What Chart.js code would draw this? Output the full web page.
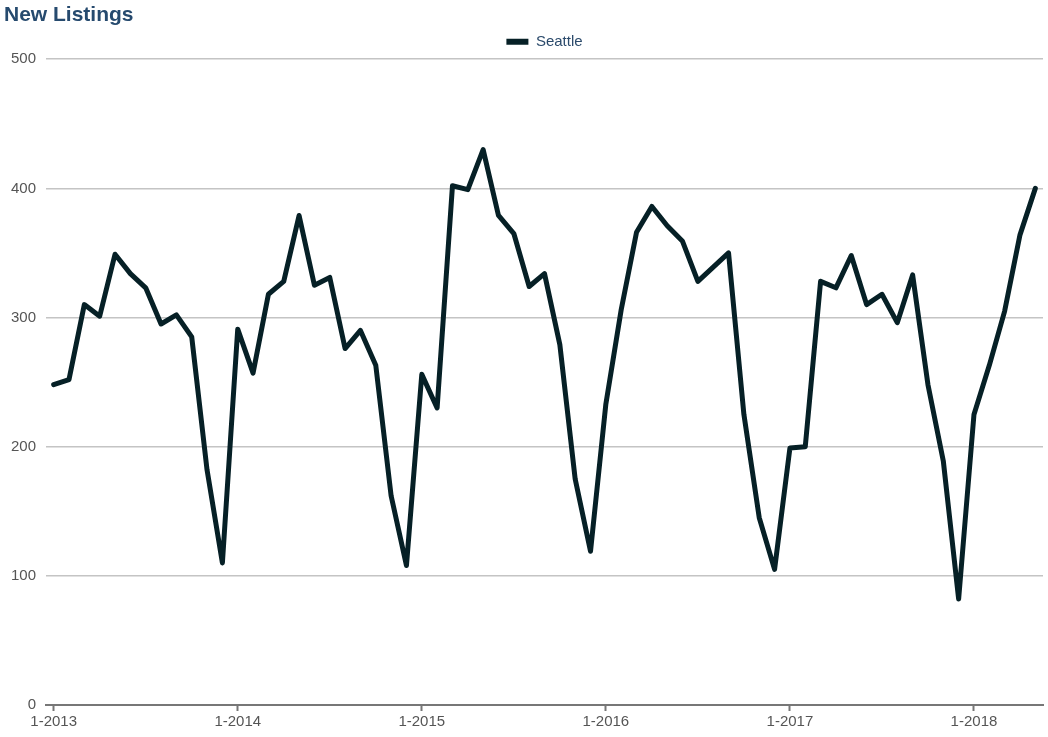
<!DOCTYPE html>
<html>
<head>
<meta charset="utf-8">
<script src="https://cdn.jsdelivr.net/npm/chart.js@4/dist/chart.umd.min.js"></script>
<style>
  html, body { margin: 0; padding: 0; background: #fff; }
  #wrap { width: 1048px; height: 737px; }
</style>
</head>
<body>
<div id="wrap"><canvas id="chart"></canvas></div>
<script>
// monthly new listings, 1-2013 .. 5-2018
const years = [2013, 2014, 2015, 2016, 2017, 2018];
const seattle = [
    248, 252, 310, 301, 349, 334, 323, 295, 302, 285, 182, 110,
    291, 257, 318, 328, 379, 325, 331, 276, 290, 263, 162, 108,
    256, 230, 402, 399, 430, 379, 365, 324, 334, 279, 175, 119,
    233, 306, 366, 386, 371, 359, 328, 339, 350, 225, 145, 105,
    199, 200, 328, 323, 348, 310, 318, 296, 333, 248, 189, 82,
    225, 263, 305, 364, 400
];
const yTicks = [0, 100, 200, 300, 400, 500];

var labels = [];
seattle.forEach(function(v, i) {
    labels.push((i % 12 + 1) + '-' + years[Math.floor(i / 12)]);
});

const ctx = document.getElementById('chart');
const font = 'Liberation Sans, Arial, sans-serif';

new Chart(ctx, {
    type: 'line',
    data: {
        labels: labels,
        datasets: [{
            label: 'Seattle',
            data: seattle,
            borderColor: '#062026',
            backgroundColor: '#062026',
            borderWidth: 5,
            borderJoinStyle: 'round',
            borderCapStyle: 'round',
            pointRadius: 0,
            tension: 0
        }]
    },
    options: {
        responsive: true,
        maintainAspectRatio: false,
        animation: false,
        layout: { padding: { left: 4, right: 5, top: 2, bottom: 4 } },
        plugins: {
            title: {
                display: true,
                text: 'New Listings',
                align: 'start',
                color: '#264a6e',
                font: { family: font, size: 21, weight: 'bold' },
                padding: { top: 1, bottom: -4 }
            },
            legend: {
                fullSize: false,
                labels: {
                    color: '#2b4a6b',
                    boxWidth: 22,
                    boxHeight: 6,
                    font: { family: font, size: 15 },
                    generateLabels: function(chart) {
                        let items = Chart.defaults.plugins.legend.labels.generateLabels(chart);
                        items.forEach(function(it) { it.lineWidth = 0; });
                        return items;
                    }
                }
            },
            tooltip: { enabled: false }
        },
        scales: {
            x: {
                offset: true,
                grid: {
                    display: true,
                    drawOnChartArea: false,
                    drawTicks: true,
                    tickLength: 6,
                    tickWidth: 2,
                    color: '#777'
                },
                border: { display: true, color: '#777', width: 2 },
                ticks: {
                    autoSkip: false,
                    maxRotation: 0,
                    padding: 2,
                    color: '#555',
                    font: { family: font, size: 15 },
                    callback: function(val, i) {
                        return i % 12 === 0 ? labels[i] : null;
                    }
                }
            },
            y: {
                min: 0,
                max: 500,
                afterBuildTicks: function(scale) {
                    scale.ticks = yTicks.map(function(v) { return { value: v }; });
                },
                afterFit: function(scale) {
                    scale.width = 42;
                },
                grid: {
                    color: '#c4c4c4',
                    lineWidth: 1.5,
                    drawTicks: false
                },
                border: { display: false },
                ticks: {
                    padding: 10,
                    color: '#555',
                    font: { family: font, size: 15 }
                }
            }
        }
    }
});
</script>
</body>
</html>
